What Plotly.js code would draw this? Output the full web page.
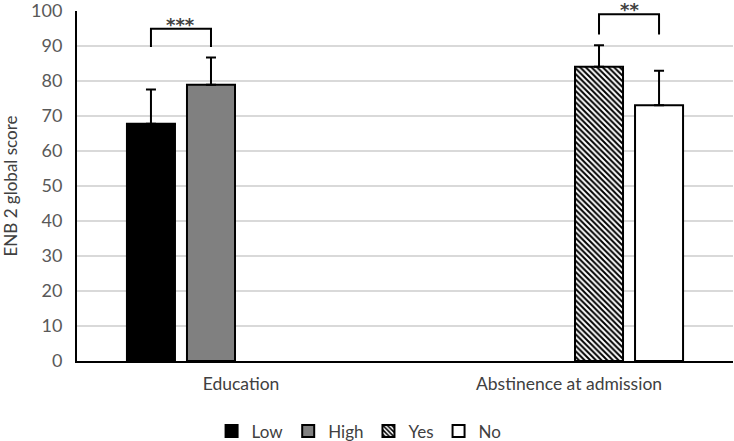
<!DOCTYPE html>
<html>
<head>
<meta charset="utf-8">
<script src="https://cdn.plot.ly/plotly-3.0.1.min.js"></script>
<style>html,body{margin:0;padding:0;background:#fff;}#chart{width:734px;height:441px;}</style>
</head>
<body>
<div id="chart"></div>
<script>
var categories = ["Education", "Abstinence at admission"];
var seriesNames = ["Low", "High", "Yes", "No"];
var lowValues = [67.8, null];
var lowErrors = [9.8, null];
var highValues = [78.9, null];
var highErrors = [7.8, null];
var yesValues = [null, 84.1];
var yesErrors = [null, 6.1];
var noValues = [null, 73.1];
var noErrors = [null, 9.8];
var yTicks = [0, 10, 20, 30, 40, 50, 60, 70, 80, 90, 100];
var sigLabels = ["***", "**"];

var FONT = "Lato, 'Open Sans', sans-serif";
var STARFONT = "'DejaVu Sans', sans-serif";
var yMax = 100;
var bargap = 0.268;
var nSeries = 4;
var slot = (1 - bargap) / nSeries;
function slotX(catIdx, seriesIdx) { return catIdx + (seriesIdx - (nSeries - 1) / 2) * slot; }

function errBar(arr) {
  return {type: 'data', array: arr, arrayminus: arr.map(function(){return 0;}), symmetric: false,
          color: '#000', thickness: 2, width: 5, visible: true};
}
var line = {color: '#000', width: 2};
var traces = [
  {type: 'bar', name: seriesNames[0], x: categories, y: lowValues, error_y: errBar(lowErrors),
   marker: {color: '#000000', line: line}},
  {type: 'bar', name: seriesNames[1], x: categories, y: highValues, error_y: errBar(highErrors),
   marker: {color: '#808080', line: line}},
  {type: 'bar', name: seriesNames[2], x: categories, y: yesValues, error_y: errBar(yesErrors),
   marker: {color: '#ffffff', line: line, pattern: {shape: '\\', fgcolor: '#000', bgcolor: '#fff', size: 4, solidity: 0.5}}},
  {type: 'bar', name: seriesNames[3], x: categories, y: noValues, error_y: errBar(noErrors),
   marker: {color: '#ffffff', line: line}}
];

// significance brackets
function bracket(catIdx, s1, s2, yLow, yTop) {
  var x1 = slotX(catIdx, s1), x2 = slotX(catIdx, s2);
  return {type: 'path', xref: 'x', yref: 'y',
          path: 'M ' + x1 + ' ' + yLow + ' L ' + x1 + ' ' + yTop + ' L ' + x2 + ' ' + yTop + ' L ' + x2 + ' ' + yLow,
          line: {color: '#000', width: 2}};
}
var shapes = [
  bracket(0, 0, 1, lowValues[0] + lowErrors[0] + 12.1, lowValues[0] + lowErrors[0] + 17.3),
  bracket(1, 2, 3, yesValues[1] + yesErrors[1] + 3.1, yesValues[1] + yesErrors[1] + 8.9)
];
var annotations = [
  {xref: 'x', yref: 'paper', x: (slotX(0,0) + slotX(0,1)) / 2, y: 97.4 / yMax, yanchor: 'middle',
   text: '<b>' + sigLabels[0] + '</b>', showarrow: false, font: {family: STARFONT, size: 18, color: '#404040'}, yshift: -4},
  {xref: 'x', yref: 'paper', x: (slotX(1,2) + slotX(1,3)) / 2, y: 101.6 / yMax, yanchor: 'middle',
   text: '<b>' + sigLabels[1] + '</b>', showarrow: false, font: {family: STARFONT, size: 18, color: '#404040'}, yshift: -4}
];

var layout = {
  width: 734, height: 441,
  margin: {l: 77, r: 1, t: 11, b: 80, autoexpand: false},
  paper_bgcolor: '#fff', plot_bgcolor: '#fff',
  barmode: 'group', bargap: bargap, bargroupgap: 0.2,
  font: {family: FONT, size: 14, color: '#595959'},
  showlegend: true,
  legend: {orientation: 'h', x: 0.43, xanchor: 'center', y: -0.15, yanchor: 'top',
           font: {family: FONT, size: 17, color: '#404040'}, traceorder: 'normal', itemwidth: 30},
  xaxis: {type: 'category', showline: true, linecolor: '#000', linewidth: 2, ticks: '', showgrid: false,
          tickfont: {family: FONT, size: 17.5, color: '#404040'}, zeroline: false, ticklabelstandoff: 6},
  yaxis: {range: [0, yMax], tickvals: yTicks, showline: true, linecolor: '#000', linewidth: 2,
          gridcolor: '#d9d9d9', gridwidth: 1.5, zeroline: false,
          ticks: 'outside', ticklen: 9, tickcolor: 'rgba(0,0,0,0)',
          tickfont: {family: FONT, size: 18, color: '#595959'}, ticklabeloverflow: 'allow',
          title: {text: 'ENB 2 global score', font: {family: FONT, size: 17, color: '#404040'}, standoff: 9}},
  shapes: shapes,
  annotations: annotations
};
Plotly.newPlot('chart', traces, layout, {staticPlot: true, displayModeBar: false});
</script>
</body>
</html>
